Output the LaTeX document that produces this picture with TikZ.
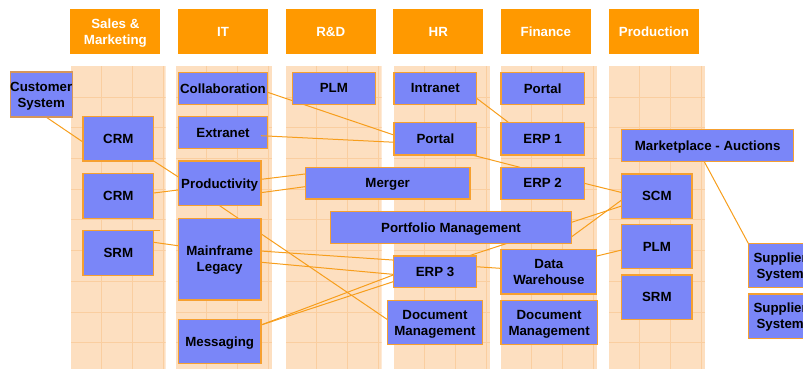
\documentclass[tikz,border=0pt]{standalone}
\usepackage{fontspec}
\setmainfont{Liberation Sans}
\usetikzlibrary{backgrounds}
\pgfdeclarelayer{cols}
\pgfsetlayers{cols,background,main}
\definecolor{hdr}{RGB}{255,153,0}
\definecolor{colbg}{RGB}{253,223,192}
\definecolor{gridc}{RGB}{250,206,160}
\definecolor{boxfill}{RGB}{122,134,248}
\definecolor{boxdraw}{RGB}{246,160,48}
\definecolor{custdraw}{RGB}{214,150,90}
\definecolor{linkc}{RGB}{247,158,28}
\tikzset{
 sysbox/.style={draw=boxdraw, fill=boxfill, line width=1.2pt, inner sep=0pt, outer sep=0pt, align=center, font=\bfseries\fontsize{13.3}{16}\selectfont, text=black, text depth=0pt},
 hdrbox/.style={fill=hdr, inner sep=0pt, minimum width=90pt, minimum height=45pt, align=center, font=\bfseries\fontsize{13.3}{16}\selectfont, text=white, text depth=0pt},
 conn/.style={draw=linkc, line width=1pt},
 colband/.style={fill=colbg, draw=none},
 gridline/.style={draw=gridc, line width=0.7pt}
}
\begin{document}
\begin{tikzpicture}[x=1pt,y=-1pt]
\useasboundingbox (0,0) rectangle (803,368);
% columns with grid
\begin{pgfonlayer}{cols}
\foreach \l/\r in {71/165.7, 176/272, 286/381.7, 394/490, 501/597, 609/705}{
  \begin{scope}
    \clip (\l,66) rectangle (\r,372);
    \fill[colband] (\l,66) rectangle (\r,372);
    \foreach \k in {0,...,9}{
      \draw[gridline] (\l,97+30.7*\k) -- (\r,97+30.7*\k);
    }
    \foreach \k in {1,...,3}{
      \draw[gridline] (\l+30.7*\k,66) -- (\l+30.7*\k,372);
    }
  \end{scope}
}
\end{pgfonlayer}
% headers
\node[hdrbox] (hsm) at (115.35,31.5) {Sales \&\\Marketing};
\node[hdrbox] (hit) at (223,31.5) {IT};
\node[hdrbox] (hrd) at (330.7,31.5) {R\&D};
\node[hdrbox] (hhr) at (438.3,31.5) {HR};
\node[hdrbox] (hfin) at (545.85,31.5) {Finance};
\node[hdrbox] (hprod) at (654,31.5) {Production};
% nodes
\node[sysbox, draw=custdraw, minimum width=61pt, minimum height=45pt] (cust) at (41.2,94.5) {Customer\\System};
\node[sysbox, minimum width=70.7pt, minimum height=44.3pt] (crmA) at (118.35,138.85) {CRM};
\node[sysbox, minimum width=70.7pt, minimum height=44.6pt] (crmB) at (118.35,196) {CRM};
\node[sysbox, minimum width=70.7pt, minimum height=45pt] (srmA) at (118.35,253.2) {SRM};
\node[sysbox, minimum width=89.4pt, minimum height=32pt] (collab) at (223,88.3) {Collaboration};
\node[sysbox, minimum width=89.4pt, minimum height=31.6pt] (extra) at (223,132.5) {Extranet};
\node[sysbox, minimum width=82.7pt, minimum height=44.7pt] (prod) at (219.65,183.35) {Productivity};
\node[sysbox, minimum width=82.7pt, minimum height=81.7pt] (main) at (219.65,259.15) {Mainframe\\Legacy};
\node[sysbox, minimum width=82.7pt, minimum height=44pt] (msg) at (219.65,341.3) {Messaging};
\node[sysbox, minimum width=83pt, minimum height=32pt] (plmA) at (333.8,88.3) {PLM};
\node[sysbox, minimum width=164.7pt, minimum height=31.7pt] (merger) at (387.65,183.15) {Merger};
\node[sysbox, minimum width=241.4pt, minimum height=31.6pt] (port) at (451,227.5) {Portfolio Management};
\node[sysbox, minimum width=82.7pt, minimum height=32pt] (intra) at (435.35,88.3) {Intranet};
\node[sysbox, minimum width=82.7pt, minimum height=32.7pt] (portalH) at (435.35,138.65) {Portal};
\node[sysbox, minimum width=83.4pt, minimum height=31.7pt] (erp3) at (435,271.85) {ERP 3};
\node[sysbox, minimum width=95.4pt, minimum height=44.4pt] (docH) at (435,322.5) {Document\\Management};
\node[sysbox, minimum width=83.3pt, minimum height=32pt] (portalF) at (542.65,88.3) {Portal};
\node[sysbox, minimum width=83.3pt, minimum height=32.7pt] (erp1) at (542.65,138.65) {ERP 1};
\node[sysbox, minimum width=83.3pt, minimum height=32pt] (erp2) at (542.65,183.3) {ERP 2};
\node[sysbox, minimum width=95.7pt, minimum height=44.7pt] (dw) at (548.85,271.65) {Data\\Warehouse};
\node[sysbox, minimum width=96.3pt, minimum height=44.4pt] (docF) at (549.15,322.5) {Document\\Management};
\node[sysbox, minimum width=172pt, minimum height=32.4pt] (market) at (707.7,145.5) {Marketplace - Auctions};
\node[sysbox, minimum width=70.3pt, minimum height=44.3pt] (scm) at (656.85,196.15) {SCM};
\node[sysbox, minimum width=70.3pt, minimum height=44.4pt] (plmP) at (656.85,246.5) {PLM};
\node[sysbox, minimum width=70.3pt, minimum height=44.3pt] (srmP) at (656.85,297.15) {SRM};
\node[sysbox, minimum width=63.7pt, minimum height=44.4pt] (sup1) at (780.15,265.5) {Supplier\\System};
\node[sysbox, minimum width=63.7pt, minimum height=44.3pt] (sup2) at (780.15,316.15) {Supplier\\System};
% connectors drawn behind the boxes, over the columns
\begin{scope}[on background layer]
\draw[conn] ([xshift=4.8pt]cust.south) -- ([yshift=-3.2pt]crmA.west);
\draw[conn] (crmA.south east) -- ([yshift=6.4pt]prod.west);
\draw[conn] ([yshift=3pt]crmB.east) -- ([yshift=-6.6pt]prod.west);
\draw[conn] ([yshift=10.9pt]srmA.east) -- ([yshift=13.4pt]main.west);
\draw[conn] (srmA.north east) -- ([xshift=6.3pt]srmA.north east);
\draw[conn] ([yshift=-4pt]collab.east) -- ([yshift=3.6pt]portalH.west);
\draw[conn] ([yshift=4pt]prod.east) -- ([yshift=9.2pt]merger.west);
\draw[conn] ([yshift=-9.3pt]prod.east) -- ([yshift=-3.5pt]merger.west);
\draw[conn] (prod.south) -- ([yshift=3pt]docH.west);
\draw[conn] ([yshift=8.1pt]main.east) -- ([yshift=11.8pt]erp3.west);
\draw[conn] ([yshift=-3.1pt]main.east) -- ([yshift=-2.5pt]erp3.west);
\draw[conn] ([yshift=16.3pt]msg.east) -- ([yshift=-3.1pt]erp3.west);
\draw[conn] ([yshift=16.3pt]msg.east) -- ([yshift=-9.8pt]erp3.west);
\draw[conn] ([xshift=-8.4pt]erp3.north east) -- ([yshift=-9.8pt]scm.west);
\draw[conn] ([yshift=-9.2pt]port.east) -- ([yshift=-3.8pt]scm.west);
\draw[conn] (erp2.east) -- ([yshift=3.6pt]scm.west);
\draw[conn] ([yshift=15.6pt]dw.east) -- ([yshift=-3.5pt]plmP.west);
\draw[conn] ([yshift=5.1pt]erp3.east) -- ([yshift=3.3pt]dw.west);
\draw[conn] ([yshift=-10pt]intra.east) -- ([xshift=7.3pt]erp1.north west);
\draw[conn] ([xshift=-4.7pt]portalH.south east) -- ([xshift=19pt]erp2.north west);
\draw[conn] ([xshift=-3.4pt]market.south) -- (sup1.north west);
\end{scope}
% this connector starts inside the Extranet box
\draw[conn] ([xshift=-6.7pt,yshift=-3.2pt]extra.east) -- ([yshift=-3.6pt]portalH.west);
\end{tikzpicture}
\end{document}
